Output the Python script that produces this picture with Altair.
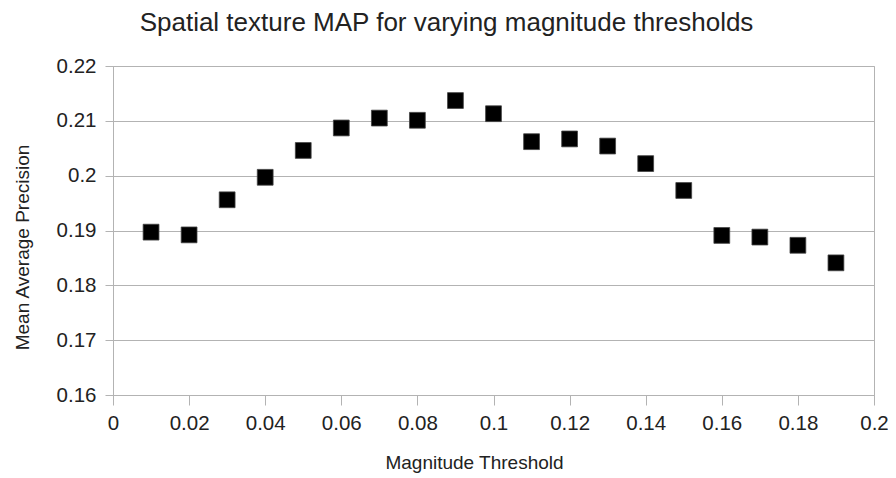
import altair as alt
import pandas as pd

thresholds = [0.01, 0.02, 0.03, 0.04, 0.05, 0.06, 0.07, 0.08, 0.09, 0.10,
              0.11, 0.12, 0.13, 0.14, 0.15, 0.16, 0.17, 0.18, 0.19]
map_values = [0.1897, 0.1892, 0.1956, 0.1997, 0.2046, 0.2087, 0.2105, 0.2101, 0.2137, 0.2113,
              0.2062, 0.2067, 0.2054, 0.2022, 0.1973, 0.1891, 0.1888, 0.1873, 0.1841]
x_ticks = [0, 0.02, 0.04, 0.06, 0.08, 0.1, 0.12, 0.14, 0.16, 0.18, 0.2]
y_ticks = [0.16, 0.17, 0.18, 0.19, 0.2, 0.21, 0.22]

df = pd.DataFrame({"threshold": thresholds, "map": map_values})

FONT = "Liberation Sans"
GRID = "#b3b3b3"
TXT = "#222222"

chart = alt.Chart(df).mark_square(size=250, color="black", opacity=1, stroke="#444444", strokeWidth=0.8).encode(
    x=alt.X("threshold:Q",
            scale=alt.Scale(domain=[0, 0.2], nice=False, zero=False),
            axis=alt.Axis(values=x_ticks, format=".2~f", title="Magnitude Threshold",
                          grid=False, tickSize=10, labelPadding=8,
                          titleX=361, titleY=67, titleBaseline="middle")),
    y=alt.Y("map:Q",
            scale=alt.Scale(domain=[0.16, 0.22], nice=False, zero=False),
            axis=alt.Axis(values=y_ticks, format=".2~f", title="Mean Average Precision",
                          grid=True, tickSize=8, labelPadding=9,
                          titleX=-91, titleY=181, titleBaseline="middle")),
).properties(
    width=761,
    height=329,
    title=alt.TitleParams("Spatial texture MAP for varying magnitude thresholds",
                          font=FONT, fontSize=26, fontWeight="normal", color=TXT,
                          anchor="middle", dx=-47, offset=20),
    autosize=alt.AutoSizeParams(type="none"),
    padding={"left": 105, "top": 58, "right": 14, "bottom": 83},
).configure_view(
    stroke=GRID, strokeWidth=1
).configure_axis(
    labelFont=FONT, labelFontSize=20.5, labelColor=TXT,
    titleFont=FONT, titleFontSize=19, titleFontWeight="normal", titleColor=TXT,
    domainColor=GRID, tickColor=GRID, gridColor=GRID, gridWidth=1, domainWidth=1, tickWidth=1,
    labelFlush=False,
)

chart.save("out.html", embed_options={"renderer": "svg", "actions": False})
